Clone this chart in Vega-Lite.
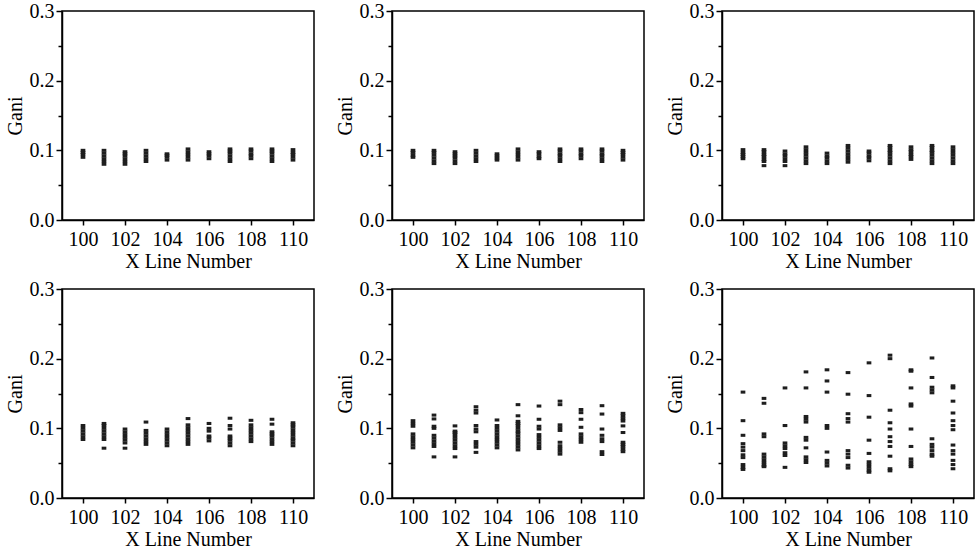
{
  "$schema": "https://vega.github.io/schema/vega-lite/v6.json",
  "padding": {"left": 4, "top": 0, "right": 5, "bottom": 0},
  "background": "white",
  "data": {"values": [
    {"p":1,"x":100,"y":0.090},{"p":1,"x":100,"y":0.094},{"p":1,"x":100,"y":0.097},{"p":1,"x":100,"y":0.100},
    {"p":1,"x":101,"y":0.080},{"p":1,"x":101,"y":0.084},{"p":1,"x":101,"y":0.088},{"p":1,"x":101,"y":0.092},{"p":1,"x":101,"y":0.096},{"p":1,"x":101,"y":0.100},
    {"p":1,"x":102,"y":0.080},{"p":1,"x":102,"y":0.084},{"p":1,"x":102,"y":0.088},{"p":1,"x":102,"y":0.092},{"p":1,"x":102,"y":0.095},{"p":1,"x":102,"y":0.098},
    {"p":1,"x":103,"y":0.084},{"p":1,"x":103,"y":0.088},{"p":1,"x":103,"y":0.092},{"p":1,"x":103,"y":0.096},{"p":1,"x":103,"y":0.100},
    {"p":1,"x":104,"y":0.086},{"p":1,"x":104,"y":0.090},{"p":1,"x":104,"y":0.093},{"p":1,"x":104,"y":0.095},
    {"p":1,"x":105,"y":0.086},{"p":1,"x":105,"y":0.090},{"p":1,"x":105,"y":0.094},{"p":1,"x":105,"y":0.098},{"p":1,"x":105,"y":0.102},
    {"p":1,"x":106,"y":0.088},{"p":1,"x":106,"y":0.092},{"p":1,"x":106,"y":0.095},{"p":1,"x":106,"y":0.098},
    {"p":1,"x":107,"y":0.084},{"p":1,"x":107,"y":0.088},{"p":1,"x":107,"y":0.092},{"p":1,"x":107,"y":0.096},{"p":1,"x":107,"y":0.099},{"p":1,"x":107,"y":0.102},
    {"p":1,"x":108,"y":0.088},{"p":1,"x":108,"y":0.092},{"p":1,"x":108,"y":0.095},{"p":1,"x":108,"y":0.099},{"p":1,"x":108,"y":0.102},
    {"p":1,"x":109,"y":0.084},{"p":1,"x":109,"y":0.088},{"p":1,"x":109,"y":0.092},{"p":1,"x":109,"y":0.096},{"p":1,"x":109,"y":0.099},{"p":1,"x":109,"y":0.102},
    {"p":1,"x":110,"y":0.086},{"p":1,"x":110,"y":0.090},{"p":1,"x":110,"y":0.094},{"p":1,"x":110,"y":0.097},{"p":1,"x":110,"y":0.101},

    {"p":2,"x":100,"y":0.090},{"p":2,"x":100,"y":0.093},{"p":2,"x":100,"y":0.097},{"p":2,"x":100,"y":0.100},
    {"p":2,"x":101,"y":0.081},{"p":2,"x":101,"y":0.085},{"p":2,"x":101,"y":0.089},{"p":2,"x":101,"y":0.093},{"p":2,"x":101,"y":0.097},{"p":2,"x":101,"y":0.100},
    {"p":2,"x":102,"y":0.081},{"p":2,"x":102,"y":0.085},{"p":2,"x":102,"y":0.089},{"p":2,"x":102,"y":0.092},{"p":2,"x":102,"y":0.095},{"p":2,"x":102,"y":0.098},
    {"p":2,"x":103,"y":0.084},{"p":2,"x":103,"y":0.088},{"p":2,"x":103,"y":0.092},{"p":2,"x":103,"y":0.096},{"p":2,"x":103,"y":0.100},
    {"p":2,"x":104,"y":0.086},{"p":2,"x":104,"y":0.089},{"p":2,"x":104,"y":0.092},{"p":2,"x":104,"y":0.095},
    {"p":2,"x":105,"y":0.086},{"p":2,"x":105,"y":0.090},{"p":2,"x":105,"y":0.094},{"p":2,"x":105,"y":0.098},{"p":2,"x":105,"y":0.102},
    {"p":2,"x":106,"y":0.088},{"p":2,"x":106,"y":0.091},{"p":2,"x":106,"y":0.095},{"p":2,"x":106,"y":0.098},
    {"p":2,"x":107,"y":0.084},{"p":2,"x":107,"y":0.088},{"p":2,"x":107,"y":0.092},{"p":2,"x":107,"y":0.095},{"p":2,"x":107,"y":0.099},{"p":2,"x":107,"y":0.102},
    {"p":2,"x":108,"y":0.088},{"p":2,"x":108,"y":0.092},{"p":2,"x":108,"y":0.095},{"p":2,"x":108,"y":0.099},{"p":2,"x":108,"y":0.102},
    {"p":2,"x":109,"y":0.084},{"p":2,"x":109,"y":0.088},{"p":2,"x":109,"y":0.092},{"p":2,"x":109,"y":0.095},{"p":2,"x":109,"y":0.099},{"p":2,"x":109,"y":0.102},
    {"p":2,"x":110,"y":0.086},{"p":2,"x":110,"y":0.090},{"p":2,"x":110,"y":0.094},{"p":2,"x":110,"y":0.097},{"p":2,"x":110,"y":0.100},

    {"p":3,"x":100,"y":0.088},{"p":3,"x":100,"y":0.091},{"p":3,"x":100,"y":0.094},{"p":3,"x":100,"y":0.097},{"p":3,"x":100,"y":0.101},
    {"p":3,"x":101,"y":0.078},{"p":3,"x":101,"y":0.084},{"p":3,"x":101,"y":0.087},{"p":3,"x":101,"y":0.091},{"p":3,"x":101,"y":0.094},{"p":3,"x":101,"y":0.098},{"p":3,"x":101,"y":0.101},
    {"p":3,"x":102,"y":0.078},{"p":3,"x":102,"y":0.084},{"p":3,"x":102,"y":0.088},{"p":3,"x":102,"y":0.092},{"p":3,"x":102,"y":0.095},{"p":3,"x":102,"y":0.099},
    {"p":3,"x":103,"y":0.081},{"p":3,"x":103,"y":0.085},{"p":3,"x":103,"y":0.089},{"p":3,"x":103,"y":0.093},{"p":3,"x":103,"y":0.097},{"p":3,"x":103,"y":0.101},{"p":3,"x":103,"y":0.105},
    {"p":3,"x":104,"y":0.081},{"p":3,"x":104,"y":0.085},{"p":3,"x":104,"y":0.089},{"p":3,"x":104,"y":0.092},{"p":3,"x":104,"y":0.096},
    {"p":3,"x":105,"y":0.083},{"p":3,"x":105,"y":0.087},{"p":3,"x":105,"y":0.091},{"p":3,"x":105,"y":0.095},{"p":3,"x":105,"y":0.099},{"p":3,"x":105,"y":0.103},{"p":3,"x":105,"y":0.107},
    {"p":3,"x":106,"y":0.085},{"p":3,"x":106,"y":0.089},{"p":3,"x":106,"y":0.092},{"p":3,"x":106,"y":0.096},{"p":3,"x":106,"y":0.099},
    {"p":3,"x":107,"y":0.081},{"p":3,"x":107,"y":0.085},{"p":3,"x":107,"y":0.089},{"p":3,"x":107,"y":0.093},{"p":3,"x":107,"y":0.097},{"p":3,"x":107,"y":0.100},{"p":3,"x":107,"y":0.104},{"p":3,"x":107,"y":0.107},
    {"p":3,"x":108,"y":0.087},{"p":3,"x":108,"y":0.091},{"p":3,"x":108,"y":0.094},{"p":3,"x":108,"y":0.098},{"p":3,"x":108,"y":0.101},{"p":3,"x":108,"y":0.105},
    {"p":3,"x":109,"y":0.081},{"p":3,"x":109,"y":0.085},{"p":3,"x":109,"y":0.089},{"p":3,"x":109,"y":0.093},{"p":3,"x":109,"y":0.097},{"p":3,"x":109,"y":0.100},{"p":3,"x":109,"y":0.104},{"p":3,"x":109,"y":0.107},
    {"p":3,"x":110,"y":0.081},{"p":3,"x":110,"y":0.085},{"p":3,"x":110,"y":0.089},{"p":3,"x":110,"y":0.093},{"p":3,"x":110,"y":0.097},{"p":3,"x":110,"y":0.101},{"p":3,"x":110,"y":0.105},

    {"p":4,"x":100,"y":0.084},{"p":4,"x":100,"y":0.088},{"p":4,"x":100,"y":0.092},{"p":4,"x":100,"y":0.096},{"p":4,"x":100,"y":0.100},{"p":4,"x":100,"y":0.104},
    {"p":4,"x":101,"y":0.0715},{"p":4,"x":101,"y":0.084},{"p":4,"x":101,"y":0.088},{"p":4,"x":101,"y":0.092},{"p":4,"x":101,"y":0.096},{"p":4,"x":101,"y":0.100},{"p":4,"x":101,"y":0.104},{"p":4,"x":101,"y":0.107},
    {"p":4,"x":102,"y":0.0715},{"p":4,"x":102,"y":0.079},{"p":4,"x":102,"y":0.083},{"p":4,"x":102,"y":0.087},{"p":4,"x":102,"y":0.091},{"p":4,"x":102,"y":0.095},{"p":4,"x":102,"y":0.099},
    {"p":4,"x":103,"y":0.077},{"p":4,"x":103,"y":0.081},{"p":4,"x":103,"y":0.085},{"p":4,"x":103,"y":0.089},{"p":4,"x":103,"y":0.093},{"p":4,"x":103,"y":0.097},{"p":4,"x":103,"y":0.109},
    {"p":4,"x":104,"y":0.075},{"p":4,"x":104,"y":0.079},{"p":4,"x":104,"y":0.083},{"p":4,"x":104,"y":0.087},{"p":4,"x":104,"y":0.091},{"p":4,"x":104,"y":0.095},{"p":4,"x":104,"y":0.099},
    {"p":4,"x":105,"y":0.077},{"p":4,"x":105,"y":0.081},{"p":4,"x":105,"y":0.085},{"p":4,"x":105,"y":0.089},{"p":4,"x":105,"y":0.093},{"p":4,"x":105,"y":0.097},{"p":4,"x":105,"y":0.101},{"p":4,"x":105,"y":0.105},{"p":4,"x":105,"y":0.114},
    {"p":4,"x":106,"y":0.082},{"p":4,"x":106,"y":0.086},{"p":4,"x":106,"y":0.089},{"p":4,"x":106,"y":0.096},{"p":4,"x":106,"y":0.100},{"p":4,"x":106,"y":0.107},
    {"p":4,"x":107,"y":0.075},{"p":4,"x":107,"y":0.079},{"p":4,"x":107,"y":0.083},{"p":4,"x":107,"y":0.086},{"p":4,"x":107,"y":0.089},{"p":4,"x":107,"y":0.099},{"p":4,"x":107,"y":0.104},{"p":4,"x":107,"y":0.1145},
    {"p":4,"x":108,"y":0.081},{"p":4,"x":108,"y":0.085},{"p":4,"x":108,"y":0.089},{"p":4,"x":108,"y":0.093},{"p":4,"x":108,"y":0.097},{"p":4,"x":108,"y":0.101},{"p":4,"x":108,"y":0.105},{"p":4,"x":108,"y":0.1115},
    {"p":4,"x":109,"y":0.077},{"p":4,"x":109,"y":0.081},{"p":4,"x":109,"y":0.085},{"p":4,"x":109,"y":0.089},{"p":4,"x":109,"y":0.092},{"p":4,"x":109,"y":0.095},{"p":4,"x":109,"y":0.106},{"p":4,"x":109,"y":0.113},
    {"p":4,"x":110,"y":0.075},{"p":4,"x":110,"y":0.079},{"p":4,"x":110,"y":0.083},{"p":4,"x":110,"y":0.086},{"p":4,"x":110,"y":0.090},{"p":4,"x":110,"y":0.094},{"p":4,"x":110,"y":0.098},{"p":4,"x":110,"y":0.102},{"p":4,"x":110,"y":0.105},{"p":4,"x":110,"y":0.108},

    {"p":5,"x":100,"y":0.072},{"p":5,"x":100,"y":0.076},{"p":5,"x":100,"y":0.080},{"p":5,"x":100,"y":0.084},{"p":5,"x":100,"y":0.088},{"p":5,"x":100,"y":0.092},{"p":5,"x":100,"y":0.103},{"p":5,"x":100,"y":0.107},{"p":5,"x":100,"y":0.111},
    {"p":5,"x":101,"y":0.059},{"p":5,"x":101,"y":0.074},{"p":5,"x":101,"y":0.078},{"p":5,"x":101,"y":0.082},{"p":5,"x":101,"y":0.086},{"p":5,"x":101,"y":0.090},{"p":5,"x":101,"y":0.100},{"p":5,"x":101,"y":0.103},{"p":5,"x":101,"y":0.1135},{"p":5,"x":101,"y":0.119},
    {"p":5,"x":102,"y":0.059},{"p":5,"x":102,"y":0.071},{"p":5,"x":102,"y":0.075},{"p":5,"x":102,"y":0.079},{"p":5,"x":102,"y":0.083},{"p":5,"x":102,"y":0.087},{"p":5,"x":102,"y":0.091},{"p":5,"x":102,"y":0.094},{"p":5,"x":102,"y":0.096},{"p":5,"x":102,"y":0.1035},
    {"p":5,"x":103,"y":0.0655},{"p":5,"x":103,"y":0.073},{"p":5,"x":103,"y":0.077},{"p":5,"x":103,"y":0.081},{"p":5,"x":103,"y":0.095},{"p":5,"x":103,"y":0.099},{"p":5,"x":103,"y":0.104},{"p":5,"x":103,"y":0.122},{"p":5,"x":103,"y":0.126},{"p":5,"x":103,"y":0.131},
    {"p":5,"x":104,"y":0.072},{"p":5,"x":104,"y":0.076},{"p":5,"x":104,"y":0.080},{"p":5,"x":104,"y":0.084},{"p":5,"x":104,"y":0.088},{"p":5,"x":104,"y":0.092},{"p":5,"x":104,"y":0.096},{"p":5,"x":104,"y":0.100},{"p":5,"x":104,"y":0.104},{"p":5,"x":104,"y":0.112},
    {"p":5,"x":105,"y":0.069},{"p":5,"x":105,"y":0.073},{"p":5,"x":105,"y":0.077},{"p":5,"x":105,"y":0.081},{"p":5,"x":105,"y":0.085},{"p":5,"x":105,"y":0.089},{"p":5,"x":105,"y":0.093},{"p":5,"x":105,"y":0.096},{"p":5,"x":105,"y":0.100},{"p":5,"x":105,"y":0.104},{"p":5,"x":105,"y":0.107},{"p":5,"x":105,"y":0.110},{"p":5,"x":105,"y":0.118},{"p":5,"x":105,"y":0.134},
    {"p":5,"x":106,"y":0.071},{"p":5,"x":106,"y":0.075},{"p":5,"x":106,"y":0.079},{"p":5,"x":106,"y":0.083},{"p":5,"x":106,"y":0.087},{"p":5,"x":106,"y":0.091},{"p":5,"x":106,"y":0.099},{"p":5,"x":106,"y":0.103},{"p":5,"x":106,"y":0.113},{"p":5,"x":106,"y":0.132},
    {"p":5,"x":107,"y":0.063},{"p":5,"x":107,"y":0.067},{"p":5,"x":107,"y":0.071},{"p":5,"x":107,"y":0.075},{"p":5,"x":107,"y":0.080},{"p":5,"x":107,"y":0.097},{"p":5,"x":107,"y":0.101},{"p":5,"x":107,"y":0.105},{"p":5,"x":107,"y":0.134},{"p":5,"x":107,"y":0.139},
    {"p":5,"x":108,"y":0.080},{"p":5,"x":108,"y":0.084},{"p":5,"x":108,"y":0.088},{"p":5,"x":108,"y":0.092},{"p":5,"x":108,"y":0.1015},{"p":5,"x":108,"y":0.113},{"p":5,"x":108,"y":0.1225},{"p":5,"x":108,"y":0.127},
    {"p":5,"x":109,"y":0.0625},{"p":5,"x":109,"y":0.0665},{"p":5,"x":109,"y":0.081},{"p":5,"x":109,"y":0.085},{"p":5,"x":109,"y":0.090},{"p":5,"x":109,"y":0.099},{"p":5,"x":109,"y":0.1205},{"p":5,"x":109,"y":0.1325},
    {"p":5,"x":110,"y":0.0665},{"p":5,"x":110,"y":0.070},{"p":5,"x":110,"y":0.074},{"p":5,"x":110,"y":0.077},{"p":5,"x":110,"y":0.080},{"p":5,"x":110,"y":0.094},{"p":5,"x":110,"y":0.1035},{"p":5,"x":110,"y":0.1105},{"p":5,"x":110,"y":0.114},{"p":5,"x":110,"y":0.118},{"p":5,"x":110,"y":0.1215},

    {"p":6,"x":100,"y":0.152},{"p":6,"x":100,"y":0.111},{"p":6,"x":100,"y":0.090},{"p":6,"x":100,"y":0.078},{"p":6,"x":100,"y":0.073},{"p":6,"x":100,"y":0.068},{"p":6,"x":100,"y":0.062},{"p":6,"x":100,"y":0.058},{"p":6,"x":100,"y":0.048},{"p":6,"x":100,"y":0.044},{"p":6,"x":100,"y":0.041},
    {"p":6,"x":101,"y":0.143},{"p":6,"x":101,"y":0.136},{"p":6,"x":101,"y":0.092},{"p":6,"x":101,"y":0.088},{"p":6,"x":101,"y":0.063},{"p":6,"x":101,"y":0.059},{"p":6,"x":101,"y":0.055},{"p":6,"x":101,"y":0.051},{"p":6,"x":101,"y":0.047},{"p":6,"x":101,"y":0.045},
    {"p":6,"x":102,"y":0.158},{"p":6,"x":102,"y":0.104},{"p":6,"x":102,"y":0.079},{"p":6,"x":102,"y":0.075},{"p":6,"x":102,"y":0.071},{"p":6,"x":102,"y":0.065},{"p":6,"x":102,"y":0.061},{"p":6,"x":102,"y":0.044},
    {"p":6,"x":103,"y":0.181},{"p":6,"x":103,"y":0.158},{"p":6,"x":103,"y":0.117},{"p":6,"x":103,"y":0.113},{"p":6,"x":103,"y":0.109},{"p":6,"x":103,"y":0.087},{"p":6,"x":103,"y":0.083},{"p":6,"x":103,"y":0.072},{"p":6,"x":103,"y":0.059},{"p":6,"x":103,"y":0.055},{"p":6,"x":103,"y":0.051},
    {"p":6,"x":104,"y":0.184},{"p":6,"x":104,"y":0.168},{"p":6,"x":104,"y":0.152},{"p":6,"x":104,"y":0.104},{"p":6,"x":104,"y":0.100},{"p":6,"x":104,"y":0.066},{"p":6,"x":104,"y":0.054},{"p":6,"x":104,"y":0.050},{"p":6,"x":104,"y":0.046},
    {"p":6,"x":105,"y":0.180},{"p":6,"x":105,"y":0.149},{"p":6,"x":105,"y":0.121},{"p":6,"x":105,"y":0.114},{"p":6,"x":105,"y":0.109},{"p":6,"x":105,"y":0.068},{"p":6,"x":105,"y":0.063},{"p":6,"x":105,"y":0.058},{"p":6,"x":105,"y":0.047},{"p":6,"x":105,"y":0.043},
    {"p":6,"x":106,"y":0.194},{"p":6,"x":106,"y":0.147},{"p":6,"x":106,"y":0.116},{"p":6,"x":106,"y":0.083},{"p":6,"x":106,"y":0.064},{"p":6,"x":106,"y":0.052},{"p":6,"x":106,"y":0.048},{"p":6,"x":106,"y":0.044},{"p":6,"x":106,"y":0.040},{"p":6,"x":106,"y":0.037},
    {"p":6,"x":107,"y":0.205},{"p":6,"x":107,"y":0.200},{"p":6,"x":107,"y":0.126},{"p":6,"x":107,"y":0.108},{"p":6,"x":107,"y":0.099},{"p":6,"x":107,"y":0.088},{"p":6,"x":107,"y":0.081},{"p":6,"x":107,"y":0.074},{"p":6,"x":107,"y":0.060},{"p":6,"x":107,"y":0.042},{"p":6,"x":107,"y":0.039},
    {"p":6,"x":108,"y":0.184},{"p":6,"x":108,"y":0.182},{"p":6,"x":108,"y":0.158},{"p":6,"x":108,"y":0.135},{"p":6,"x":108,"y":0.132},{"p":6,"x":108,"y":0.099},{"p":6,"x":108,"y":0.074},{"p":6,"x":108,"y":0.056},{"p":6,"x":108,"y":0.052},{"p":6,"x":108,"y":0.048},{"p":6,"x":108,"y":0.045},
    {"p":6,"x":109,"y":0.201},{"p":6,"x":109,"y":0.173},{"p":6,"x":109,"y":0.159},{"p":6,"x":109,"y":0.155},{"p":6,"x":109,"y":0.151},{"p":6,"x":109,"y":0.085},{"p":6,"x":109,"y":0.077},{"p":6,"x":109,"y":0.073},{"p":6,"x":109,"y":0.068},{"p":6,"x":109,"y":0.063},{"p":6,"x":109,"y":0.060},
    {"p":6,"x":110,"y":0.161},{"p":6,"x":110,"y":0.158},{"p":6,"x":110,"y":0.139},{"p":6,"x":110,"y":0.122},{"p":6,"x":110,"y":0.111},{"p":6,"x":110,"y":0.104},{"p":6,"x":110,"y":0.098},{"p":6,"x":110,"y":0.076},{"p":6,"x":110,"y":0.068},{"p":6,"x":110,"y":0.063},{"p":6,"x":110,"y":0.054},{"p":6,"x":110,"y":0.048},{"p":6,"x":110,"y":0.042}
  ]},
  "columns": 3,
  "spacing": {"column": 78, "row": 69},
  "bounds": "flush",
  "concat": [
    {"width": 252, "height": 209, "transform": [{"filter": "datum.p == 1"}], "mark": {"type": "point"},
     "encoding": {
      "x": {"field": "x", "type": "quantitative", "scale": {"domain": [99, 111], "nice": false, "zero": false}, "axis": {"title": "X Line Number"}},
      "y": {"field": "y", "type": "quantitative", "scale": {"domain": [0, 0.3], "nice": false}, "axis": {"title": "Gani"}}}},
    {"width": 252, "height": 209, "transform": [{"filter": "datum.p == 2"}], "mark": {"type": "point"},
     "encoding": {
      "x": {"field": "x", "type": "quantitative", "scale": {"domain": [99, 111], "nice": false, "zero": false}, "axis": {"title": "X Line Number"}},
      "y": {"field": "y", "type": "quantitative", "scale": {"domain": [0, 0.3], "nice": false}, "axis": {"title": "Gani"}}}},
    {"width": 252, "height": 209, "transform": [{"filter": "datum.p == 3"}], "mark": {"type": "point"},
     "encoding": {
      "x": {"field": "x", "type": "quantitative", "scale": {"domain": [99, 111], "nice": false, "zero": false}, "axis": {"title": "X Line Number"}},
      "y": {"field": "y", "type": "quantitative", "scale": {"domain": [0, 0.3], "nice": false}, "axis": {"title": "Gani"}}}},
    {"width": 252, "height": 209, "transform": [{"filter": "datum.p == 4"}], "mark": {"type": "point"},
     "encoding": {
      "x": {"field": "x", "type": "quantitative", "scale": {"domain": [99, 111], "nice": false, "zero": false}, "axis": {"title": "X Line Number"}},
      "y": {"field": "y", "type": "quantitative", "scale": {"domain": [0, 0.3], "nice": false}, "axis": {"title": "Gani"}}}},
    {"width": 252, "height": 209, "transform": [{"filter": "datum.p == 5"}], "mark": {"type": "point"},
     "encoding": {
      "x": {"field": "x", "type": "quantitative", "scale": {"domain": [99, 111], "nice": false, "zero": false}, "axis": {"title": "X Line Number"}},
      "y": {"field": "y", "type": "quantitative", "scale": {"domain": [0, 0.3], "nice": false}, "axis": {"title": "Gani"}}}},
    {"width": 252, "height": 209, "transform": [{"filter": "datum.p == 6"}], "mark": {"type": "point"},
     "encoding": {
      "x": {"field": "x", "type": "quantitative", "scale": {"domain": [99, 111], "nice": false, "zero": false}, "axis": {"title": "X Line Number"}},
      "y": {"field": "y", "type": "quantitative", "scale": {"domain": [0, 0.3], "nice": false}, "axis": {"title": "Gani"}}}}
  ],
  "config": {
    "view": {"stroke": "#000", "strokeWidth": 1.5},
    "point": {"shape": "M-1,-0.65L1,-0.65L1,0.65L-1,0.65Z", "size": 22, "filled": true, "color": "#1e1e1e", "opacity": 1, "strokeWidth": 0},
    "axisX": {"values": [100,101,102,103,104,105,106,107,108,109,110], "format": "d",
      "labelExpr": "datum.value % 2 == 0 ? datum.label : ''",
      "tickSize": {"condition": {"test": "datum.value % 2 == 0", "value": 5}, "value": 3},
      "labelPadding": 4, "titlePadding": 2},
    "axisY": {"values": [0, 0.05, 0.1, 0.15, 0.2, 0.25, 0.3],
      "labelExpr": "abs(datum.value*10 - round(datum.value*10)) < 0.01 ? format(datum.value, '.1f') : ''",
      "tickSize": {"condition": {"test": "abs(datum.value*10 - round(datum.value*10)) < 0.01", "value": 6}, "value": 4},
      "labelPadding": 2, "titlePadding": 4},
    "axis": {"grid": false, "domainColor": "#000", "domainWidth": 1.5, "tickColor": "#000", "tickWidth": 1.5,
      "labelFont": "Liberation Serif", "labelFontSize": 20, "labelColor": "#000",
      "titleFont": "Liberation Serif", "titleFontSize": 20, "titleFontWeight": "normal", "titleColor": "#000",
      "labelOverlap": false}
  }
}
